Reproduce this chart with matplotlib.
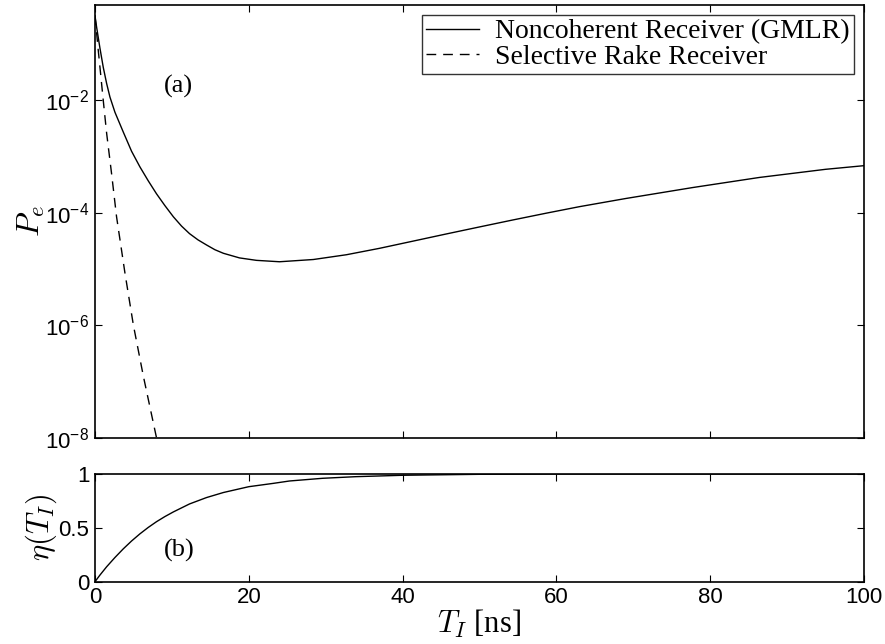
import matplotlib
matplotlib.use('Agg')
import matplotlib.pyplot as plt
import numpy as np
from matplotlib.ticker import NullLocator, FixedLocator

# values
t_gmlr = [0, 0.22, 0.65, 1.08, 1.52, 1.95, 2.6, 3.68, 4.76, 5.84, 6.93, 8.0, 9.09, 10.2,
          11.26, 12.3, 13.4, 14.5, 15.6, 16.7, 18.8, 21, 24, 28.4, 32.7, 37, 41.3, 45.7,
          50, 54.3, 58.7, 63, 69, 77.7, 86.4, 95, 100]
pe_gmlr = [0.324, 0.200, 0.0851, 0.0389, 0.0200, 0.0115, 6.17e-3, 2.75e-3, 1.25e-3,
           6.61e-4, 3.72e-4, 2.19e-4, 1.35e-4, 8.51e-5, 5.82e-5, 4.27e-5, 3.31e-5,
           2.69e-5, 2.21e-5, 1.91e-5, 1.58e-5, 1.43e-5, 1.35e-5, 1.48e-5, 1.80e-5,
           2.34e-5, 3.13e-5, 4.22e-5, 5.62e-5, 7.46e-5, 9.89e-5, 1.29e-4, 1.80e-4,
           2.82e-4, 4.27e-4, 5.96e-4, 6.92e-4]

t_rake = [0, 0.43, 0.65, 1.08, 1.52, 2.16, 2.81, 3.9, 5.0, 6.3, 8.0]
pe_rake = [0.324, 0.078, 0.039, 0.01, 2.6e-3, 5.0e-4, 8.5e-5, 8.5e-6, 1.0e-6, 1.23e-7, 1.0e-8]

t_eta = [0, 0.65, 1.52, 2.6, 3.68, 4.76, 5.84, 6.93, 8.0, 9.1, 10.2, 12.3, 14.5, 16.7,
         20, 23.2, 25.3, 29.6, 33.9, 40, 50, 60, 100]
eta = [0, 0.062, 0.139, 0.225, 0.305, 0.378, 0.444, 0.504, 0.557, 0.605, 0.648, 0.722,
       0.781, 0.828, 0.882, 0.913, 0.935, 0.96, 0.975, 0.988, 0.997, 1.0, 1.0]

xticks = [0, 20, 40, 60, 80, 100]
labels = ['Noncoherent Receiver (GMLR)', 'Selective Rake Receiver']

plt.rcParams['font.family'] = 'Liberation Sans'
plt.rcParams['mathtext.fontset'] = 'custom'
plt.rcParams['mathtext.rm'] = 'Liberation Sans'
plt.rcParams['mathtext.it'] = 'Liberation Sans:italic'

fig = plt.figure(figsize=(8.85, 6.44), dpi=100)
ax1 = fig.add_axes([0.1073, 0.3204, 0.8689, 0.6718])
ax2 = fig.add_axes([0.1073, 0.0967, 0.8689, 0.1673])

ax1.plot(t_gmlr, pe_gmlr, color='k', lw=1.0, label=labels[0])
ax1.plot(t_rake, pe_rake, color='k', lw=1.0, dashes=(7, 5), label=labels[1])
ax1.set_yscale('log')
ax1.set_xlim(0, 100)
ax1.set_ylim(1e-8, 0.5)
ax1.yaxis.set_major_locator(FixedLocator([1e-8, 1e-6, 1e-4, 1e-2]))
ax1.yaxis.set_minor_locator(NullLocator())
ax1.set_xticks(xticks)
ax1.set_xticklabels([])
ax1.text(10.9, 1.75e-2, '(a)', fontsize=19, family='Liberation Serif', ha='center', va='center')
ax1.set_ylabel('$P_e$', fontsize=23, math_fontfamily='cm', labelpad=-1)

leg = ax1.legend(loc='upper right', prop={'family': 'Liberation Serif', 'size': 20},
                 frameon=True, fancybox=False, edgecolor='k', handlelength=1.9,
                 borderpad=0.15, labelspacing=0.0, handletextpad=0.6,
                 borderaxespad=0.35)
leg.get_frame().set_linewidth(1.0)

ax2.plot(t_eta, eta, color='k', lw=1.0)
ax2.set_xlim(0, 100)
ax2.set_ylim(0, 1)
ax2.set_xticks(xticks)
ax2.set_yticks([0, 0.5, 1])
ax2.set_yticklabels(['0', '0.5', '1'])
ax2.text(10.9, 0.29, '(b)', fontsize=19, family='Liberation Serif', ha='center', va='center')
ax2.set_ylabel(r'$\eta(T_I)$', fontsize=22, math_fontfamily='cm', labelpad=0)
ax2.set_xlabel('$T_I$ [ns]', fontsize=22, family='Liberation Serif',
               math_fontfamily='cm', labelpad=0)

for ax in (ax1, ax2):
    ax.tick_params(direction='in', length=5, width=0.8, top=True, right=True,
                   labelsize=16, pad=4)
    for s in ax.spines.values():
        s.set_linewidth(1.2)

plt.savefig('out.png', dpi=100)
